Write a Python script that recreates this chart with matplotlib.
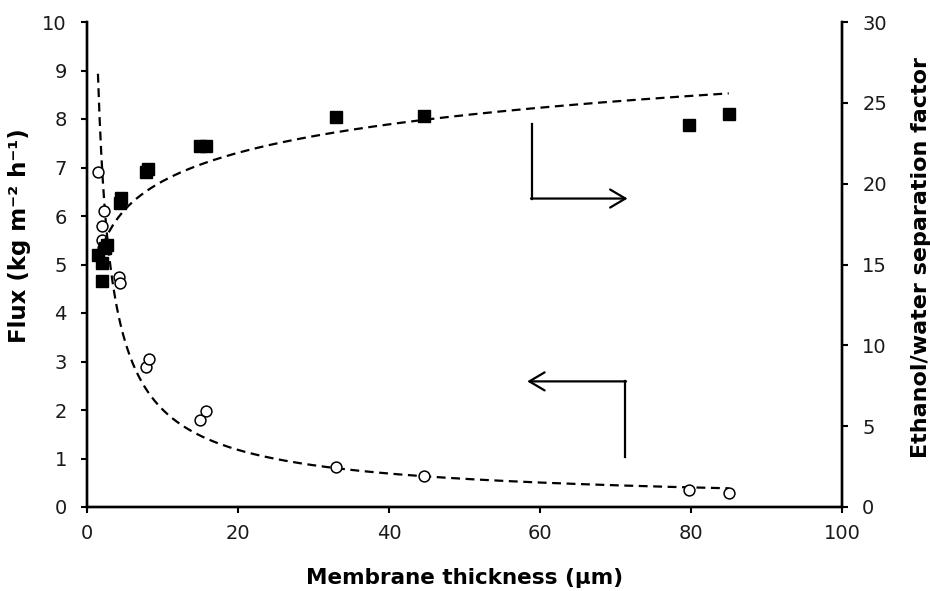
import numpy as np
import matplotlib
matplotlib.use("Agg")
import matplotlib.pyplot as plt

# Flux data (left axis)
flux_x = [1.5, 2.0, 2.3, 2.0, 2.1, 4.3, 4.4, 7.8, 8.2, 15.0, 15.8, 33.0, 44.7, 79.7, 85.0]
flux_y = [6.9, 5.8, 6.1, 5.5, 5.35, 4.75, 4.62, 2.88, 3.05, 1.8, 1.98, 0.82, 0.64, 0.35, 0.28]

# Separation factor data (right axis)
sep_x = [1.5, 2.0, 2.0, 2.4, 2.6, 4.4, 4.5, 7.8, 8.1, 15.0, 15.8, 33.0, 44.7, 79.7, 85.0]
sep_y = [15.6, 15.1, 13.95, 16.0, 16.2, 18.8, 19.1, 20.7, 20.9, 22.3, 22.3, 24.1, 24.2, 23.6, 24.3]

# Trendline coefficients
flux_power_coef = 11.9      # flux = coef * x ** exp
flux_power_exp = -0.772
sep_log_a = 14.3            # sep = a + b * ln(x)
sep_log_b = 2.54

x_ticks = [0, 20, 40, 60, 80, 100]
flux_ticks = list(range(0, 11))
sep_ticks = [0, 5, 10, 15, 20, 25, 30]

plt.rcParams['font.family'] = ['DejaVu Sans']
fig = plt.figure(figsize=(9.3, 5.91), dpi=100)
ax = fig.add_axes([87 / 930, 1 - 507 / 591, 755 / 930, 485 / 591])
ax2 = ax.twinx()

xs = np.linspace(1.45, 85, 400)
ax.plot(xs, flux_power_coef * xs ** flux_power_exp, color='black', lw=1.6, dashes=(4, 2.5))
xs2 = np.linspace(1.5, 85, 400)
ax2.plot(xs2, sep_log_a + sep_log_b * np.log(xs2), color='black', lw=1.6, dashes=(4, 2.5))

ax.plot(flux_x, flux_y, 'o', mfc='white', mec='black', ms=7.8, mew=1.1, ls='none', zorder=5)
ax2.plot(sep_x, sep_y, 's', mfc='black', mec='black', ms=8, ls='none', zorder=5)

ax.set_xlim(0, 100)
ax.set_ylim(0, 10)
ax2.set_ylim(0, 30)
ax.set_xticks(x_ticks)
ax.set_yticks(flux_ticks)
ax2.set_yticks(sep_ticks)

for a in (ax, ax2):
    for s in a.spines.values():
        s.set_linewidth(1.7)
    a.tick_params(direction='out', length=4.5, width=1.5, labelsize=14, labelcolor='#1a1a1a')
ax.tick_params(axis='y', pad=10)
ax.tick_params(axis='x', pad=8)
ax2.tick_params(axis='y', pad=10)
ax.spines['top'].set_visible(False)
ax2.spines['top'].set_visible(False)

ax.set_xlabel('Membrane thickness (μm)', fontsize=15.5, fontweight='bold')
ax.xaxis.set_label_coords(0.5, -0.126)
ax.set_ylabel('Flux (kg m⁻² h⁻¹)', fontsize=16.5, fontweight='bold')
ax.yaxis.set_label_coords(-0.074, 0.56)
ax2.set_ylabel('Ethanol/water separation factor', fontsize=16, fontweight='bold')
ax2.yaxis.set_label_coords(1.092, 0.515)

# arrows
arrow_style = '->, head_length=1.1, head_width=0.65'
ax.plot([59.0, 59.0], [7.9, 6.36], color='black', lw=1.6)
ax.annotate('', xy=(71.6, 6.36), xytext=(58.8, 6.36),
            arrowprops=dict(arrowstyle=arrow_style, lw=1.6, color='black', shrinkA=0, shrinkB=0))
ax.plot([71.2, 71.2], [1.03, 2.59], color='black', lw=1.6)
ax.annotate('', xy=(58.3, 2.59), xytext=(71.4, 2.59),
            arrowprops=dict(arrowstyle=arrow_style, lw=1.6, color='black', shrinkA=0, shrinkB=0))

fig.savefig('out.png', dpi=100)
